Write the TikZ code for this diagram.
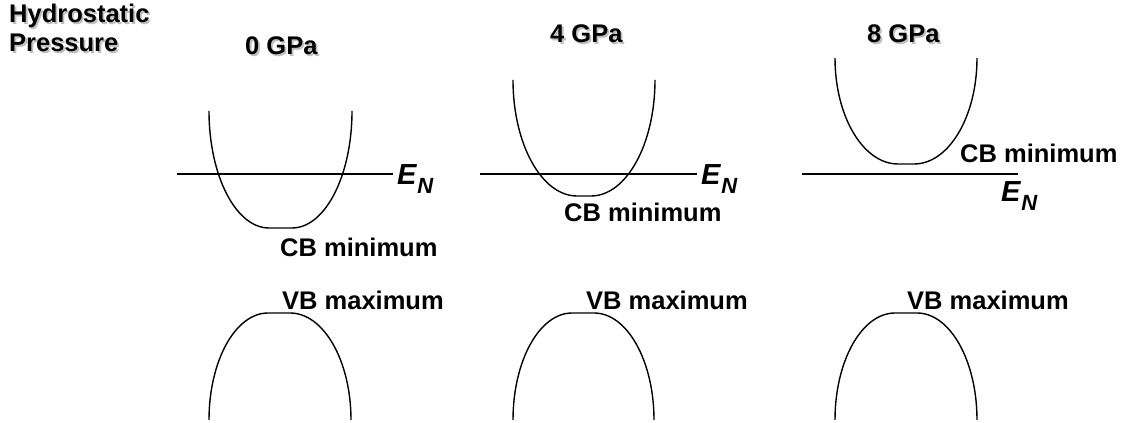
\documentclass[tikz,border=0pt]{standalone}
\usepackage{fontspec}
\setmainfont{Liberation Sans}
\newcommand{\shtext}[1]{\makebox[0pt][l]{\hspace{1.8pt}\raisebox{-1.8pt}{\color{black!25}#1}}#1}
\newcommand{\EN}{\textit{E}\raisebox{-0.3em}{\fontsize{22}{22}\selectfont\textit{N}}}
\begin{document}
\begin{tikzpicture}[x=1pt,y=1pt,
  lab/.style={font=\fontsize{25.5}{28}\selectfont\bfseries, inner sep=0pt, anchor=base west},
  enlab/.style={font=\fontsize{29}{30}\selectfont\bfseries, inner sep=0pt, anchor=base west},
  band/.style={line width=1.4pt, line join=round},
  level/.style={line width=1.4pt}]
\useasboundingbox (0,0) rectangle (1125,423);
% titles
\node[lab] (hyd) at (9,400) {\shtext{Hydrostatic}};
\node[lab] (pres) at (9,371) {\shtext{Pressure}};
\node[lab] (p0) at (245,368) {\shtext{0 GPa}};
\node[lab] (p4) at (550,380) {\shtext{4 GPa}};
\node[lab] (p8) at (867,380) {\shtext{8 GPa}};
% E_N levels
\node[enlab] (en1) at (397,238) {\EN};
\node[enlab] (en2) at (701,238) {\EN};
\node[enlab] (en3) at (1001,221) {\EN};
\coordinate (l1a) at (177,249); \coordinate (l1b) at (393,249);
\coordinate (l2a) at (480,249); \coordinate (l2b) at (697,249);
\coordinate (l3a) at (802,249); \coordinate (l3b) at (1018,249);
\draw[level] (l1a) -- (l1b);
\draw[level] (l2a) -- (l2b);
\draw[level] (l3a) -- (l3b);
% conduction bands
\draw[band] (209,312) arc[start angle=180,end angle=270,x radius=60,y radius=117] -- ++(23,0)
  arc[start angle=270,end angle=360,x radius=60,y radius=117];
\draw[band] (513,343) arc[start angle=180,end angle=270,x radius=64,y radius=116] -- ++(14,0)
  arc[start angle=270,end angle=360,x radius=64,y radius=116];
\draw[band] (835,365) arc[start angle=180,end angle=270,x radius=63,y radius=106] -- ++(16,0)
  arc[start angle=270,end angle=360,x radius=63,y radius=106];
% valence bands
\draw[band] (209,3) arc[start angle=180,end angle=90,x radius=59,y radius=107] -- ++(22,0)
  arc[start angle=90,end angle=0,x radius=61,y radius=107];
\draw[band] (513,3) arc[start angle=180,end angle=90,x radius=59,y radius=107] -- ++(22,0)
  arc[start angle=90,end angle=0,x radius=60,y radius=107];
\draw[band] (835,3) arc[start angle=180,end angle=90,x radius=60,y radius=107] -- ++(22,0)
  arc[start angle=90,end angle=0,x radius=60,y radius=107];
% band labels
\node[lab] (cb1) at (280,166) {CB minimum};
\node[lab] (cb2) at (564,201) {CB minimum};
\node[lab] (cb3) at (960,260) {CB minimum};
\node[lab] (vb1) at (282,113) {VB maximum};
\node[lab] (vb2) at (586,113) {VB maximum};
\node[lab] (vb3) at (907,113) {VB maximum};
\end{tikzpicture}
\end{document}
